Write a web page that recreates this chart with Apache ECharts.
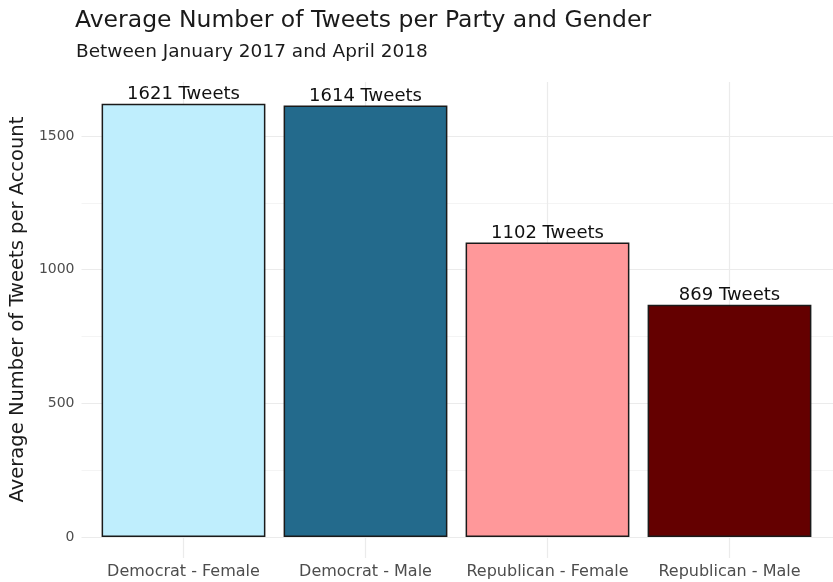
<!DOCTYPE html>
<html>
<head>
<meta charset="utf-8">
<script src="https://cdn.jsdelivr.net/npm/echarts@6/dist/echarts.min.js"></script>
<style>html,body{margin:0;padding:0;background:#fff;}#c{width:833px;height:582px;}</style>
</head>
<body>
<div id="c"></div>
<script>
const categories = ['Democrat - Female', 'Democrat - Male', 'Republican - Female', 'Republican - Male'];
const tweets = [1621, 1614, 1102, 869];
const barColors = ['#BFEEFD', '#236A8C', '#FF989A', '#640000'];
const yTicks = [0, 500, 1000, 1500];

const FONT = 'DejaVu Sans';
const yMax = 1621 * 1.05;
const chart = echarts.init(document.getElementById('c'), null, {renderer: 'canvas'});
chart.setOption({
  backgroundColor: '#ffffff',
  animation: false,
  textStyle: {fontFamily: FONT},
  title: [
    {text: 'Average Number of Tweets per Party and Gender', left: 70, top: 4,
     textStyle: {fontFamily: FONT, fontSize: 23.5, fontWeight: 'normal', color: '#1a1a1a'}},
    {text: 'Between January 2017 and April 2018', left: 71, top: 38,
     textStyle: {fontFamily: FONT, fontSize: 18.5, fontWeight: 'normal', color: '#1a1a1a'}}
  ],
  grid: [
    {left: 92.5, right: 12.5, top: 82, bottom: 45},
    {left: 75, right: 0, top: 82, bottom: 45}
  ],
  xAxis: [
    {type: 'category', gridIndex: 0, data: categories,
     axisLine: {show: false},
     axisTick: {show: true, interval: 0, alignWithLabel: true, length: 21, lineStyle: {color: '#EBEBEB', width: 1.2}},
     splitLine: {show: true, interval: 0, alignWithLabel: true, lineStyle: {color: '#EBEBEB', width: 1.2}},
     axisLabel: {interval: 0, margin: 27, fontSize: 16, color: '#4D4D4D', fontFamily: FONT}},
    {type: 'value', gridIndex: 1, show: false, min: 0, max: 1}
  ],
  yAxis: [
    {type: 'value', gridIndex: 0, min: 0, max: yMax, show: false, splitLine: {show: false}},
    {type: 'value', gridIndex: 1, min: 0, max: yMax, interval: 250,
     name: 'Average Number of Tweets per Account', nameLocation: 'middle', nameGap: 53,
     nameTextStyle: {fontSize: 19.5, color: '#1a1a1a', fontFamily: FONT},
     axisLine: {show: false}, axisTick: {show: false},
     axisLabel: {showMaxLabel: false, fontSize: 14, color: '#4D4D4D', margin: 7, fontFamily: FONT,
       formatter: v => (yTicks.indexOf(v) >= 0 ? String(v) : '')},
     splitLine: {show: true, showMaxLine: false,
       lineStyle: {color: ['#EBEBEB', '#F4F4F4'], width: 1.2}}}
  ],
  series: [{
    type: 'bar', xAxisIndex: 0, yAxisIndex: 0,
    barCategoryGap: '10%',
    data: tweets.map((v, i) => ({value: v, itemStyle: {color: barColors[i]}})),
    itemStyle: {borderColor: '#1a1a1a', borderWidth: 1.5},
    label: {show: true, position: 'top', distance: 0, fontSize: 18, color: '#111',
      fontFamily: FONT, formatter: p => p.value + ' Tweets'}
  }]
});
</script>
</body>
</html>
